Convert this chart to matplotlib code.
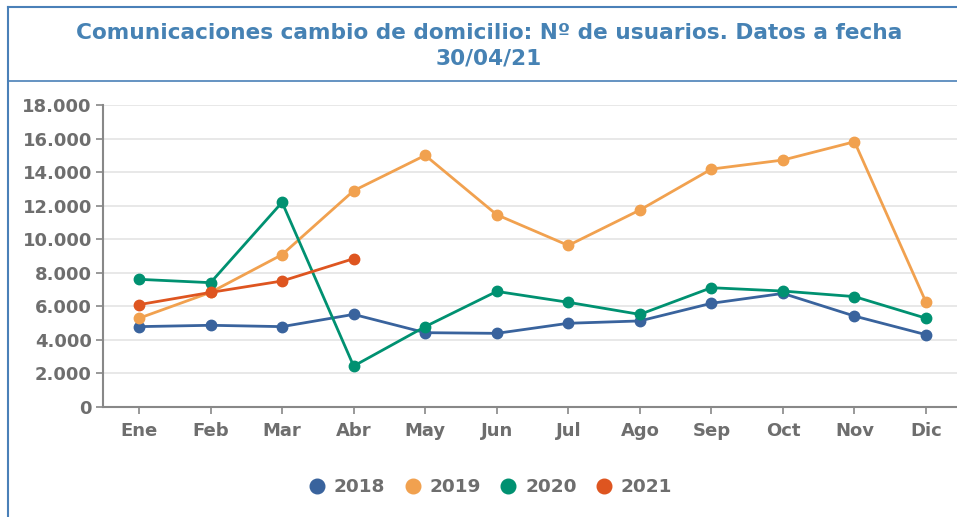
import matplotlib
matplotlib.use("Agg")
import matplotlib.pyplot as plt
from matplotlib.lines import Line2D
from matplotlib.ticker import FuncFormatter

months = ["Ene", "Feb", "Mar", "Abr", "May", "Jun", "Jul", "Ago", "Sep", "Oct", "Nov", "Dic"]
v2018 = [4790, 4870, 4790, 5520, 4430, 4390, 4990, 5130, 6180, 6770, 5420, 4310]
v2019 = [5290, 6830, 9080, 12890, 15000, 11460, 9630, 11740, 14180, 14720, 15810, 6240]
v2020 = [7610, 7410, 12200, 2440, 4790, 6890, 6240, 5520, 7110, 6910, 6580, 5290]
v2021 = [6100, 6830, 7510, 8840]
years = ["2018", "2019", "2020", "2021"]
colors = ["#39639d", "#f1a14f", "#009171", "#de5520"]
series = [v2018, v2019, v2020, v2021]

W, H = 957, 517
fig = plt.figure(figsize=(W / 100, H / 100), dpi=100)
fig.patch.set_facecolor("white")

gray = "#6e6e6e"
border = "#4a80b8"

# frame lines
fig.add_artist(Line2D([8 / W, 8 / W], [0, 1 - 7 / H], transform=fig.transFigure, color=border, lw=1.5))
fig.add_artist(Line2D([8 / W, 1], [1 - 7 / H, 1 - 7 / H], transform=fig.transFigure, color=border, lw=1.5))
fig.add_artist(Line2D([8 / W, 1], [1 - 81 / H, 1 - 81 / H], transform=fig.transFigure, color=border, lw=1.2))

fig.text(489 / W, 1 - 33 / H, "Comunicaciones cambio de domicilio: Nº de usuarios. Datos a fecha",
         ha="center", va="center", fontsize=15.6, fontweight="bold", color="#4682b4")
fig.text(489 / W, 1 - 59 / H, "30/04/21",
         ha="center", va="center", fontsize=15.6, fontweight="bold", color="#4682b4")

ax = fig.add_axes([103 / W, (H - 407) / H, (W - 103) / W, (407 - 105) / H])
x = list(range(len(months)))
for vals, c, yr in zip(series, colors, years):
    ax.plot(x[:len(vals)], vals, color=c, lw=2.0, marker="o", ms=7.5, label=yr, zorder=3)

ax.set_xlim(-0.503, (W - 139) / 71.55)
ax.set_ylim(0, 18000)
ax.set_yticks(range(0, 18001, 2000))
ax.yaxis.set_major_formatter(FuncFormatter(lambda v, p: f"{int(v):,}".replace(",", ".")))
ax.set_xticks(x)
ax.set_xticklabels(months)
ax.grid(axis="y", color="#e4e4e4", lw=1.2, zorder=0)
ax.set_axisbelow(True)
for s in ["top", "right"]:
    ax.spines[s].set_visible(False)
for s in ["left", "bottom"]:
    ax.spines[s].set_color("#888888")
    ax.spines[s].set_linewidth(1.5)
ax.tick_params(axis="both", colors="#888888", length=5, width=1.2, labelcolor=gray, labelsize=13)
ax.tick_params(axis="x", pad=6)
ax.tick_params(axis="y", pad=3)
for lab in ax.get_xticklabels() + ax.get_yticklabels():
    lab.set_fontweight("bold")

handles = [Line2D([], [], ls="none", marker="o", ms=10.5, color=c) for c in colors]
leg = fig.legend(handles, years, loc="center", bbox_to_anchor=(490 / W, 1 - 487 / H), ncol=4,
                 frameon=False, handletextpad=0.4, columnspacing=1.0, handlelength=1.0,
                 prop={"weight": "bold", "size": 13.3})
for t in leg.get_texts():
    t.set_color(gray)

fig.savefig("out.png", dpi=100, facecolor="white")
